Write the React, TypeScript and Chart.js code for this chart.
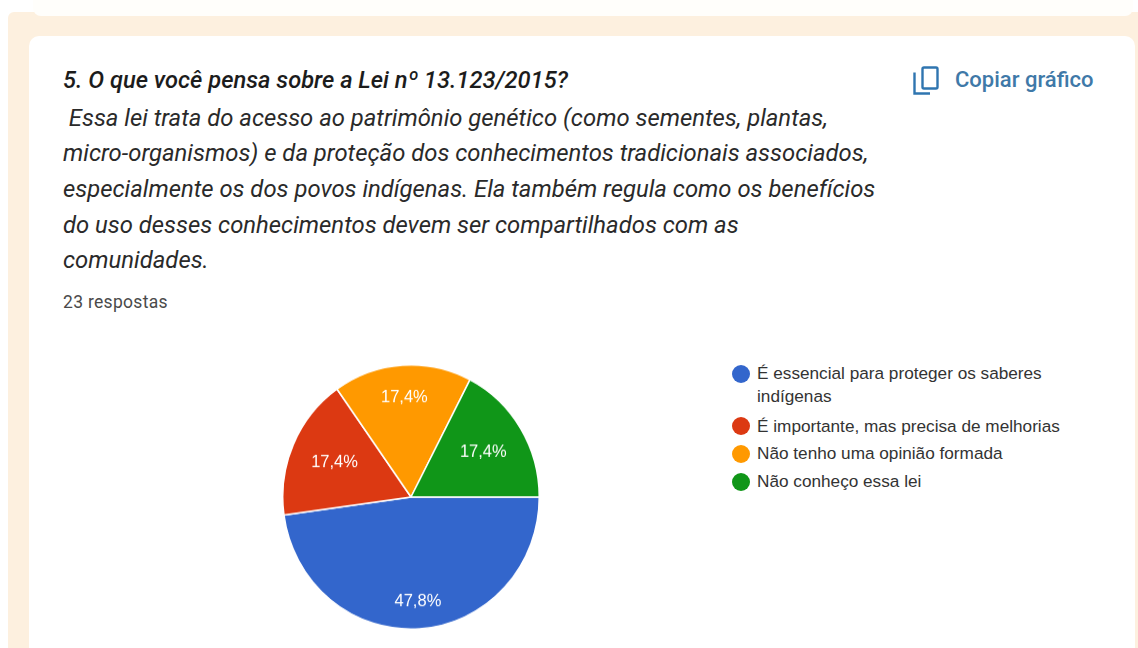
import React, { useEffect, useRef } from "react";
import { Chart, registerables } from "chart.js";

Chart.register(...registerables);

const categories = [
  ["É essencial para proteger os saberes", "indígenas"],
  ["É importante, mas precisa de melhorias"],
  ["Não tenho uma opinião formada"],
  ["Não conheço essa lei"],
];
const responses = [11, 4, 4, 4];
const valueLabels = ["47,8%", "17,4%", "17,4%", "17,4%"];
const colors = ["#3366cc", "#dc3912", "#ff9900", "#109618"];
const labelRadius = [0.79, 0.65, 0.755, 0.66];

const titleLine = "5. O que você pensa sobre a Lei nº 13.123/2015?";
const descriptionLines = [
  "\u00a0Essa lei trata do acesso ao patrimônio genético (como sementes, plantas,",
  "micro-organismos) e da proteção dos conhecimentos tradicionais associados,",
  "especialmente os dos povos indígenas. Ela também regula como os benefícios",
  "do uso desses conhecimentos devem ser compartilhados com as",
  "comunidades.",
];

const sliceLabels = {
  id: "sliceLabels",
  afterDatasetsDraw(chart: any) {
    const { ctx } = chart;
    const arcs = chart.getDatasetMeta(0).data;
    ctx.save();
    ctx.font = '16.5px "Liberation Sans", Arial, sans-serif';
    ctx.fillStyle = "#ffffff";
    ctx.textAlign = "center";
    ctx.textBaseline = "middle";
    arcs.forEach((arc: any, i: number) => {
      const mid = (arc.startAngle + arc.endAngle) / 2;
      const r = arc.outerRadius * labelRadius[i];
      ctx.fillText(valueLabels[i], arc.x + Math.cos(mid) * r, arc.y + Math.sin(mid) * r);
    });
    ctx.restore();
  },
};

const abs = (left: number, top: number, extra: React.CSSProperties = {}): React.CSSProperties => ({
  position: "absolute",
  left,
  top,
  whiteSpace: "pre",
  ...extra,
});

const legendMarkerTops = [365, 417, 445, 473];
const legendTextTops = [[363, 386], [416], [443], [471]];

export default function App() {
  const ref = useRef<HTMLCanvasElement>(null);

  useEffect(() => {
    document.body.style.margin = "0";
    const chart = new Chart(ref.current!, {
      type: "pie",
      data: {
        labels: categories.map((c) => c.join(" ")),
        datasets: [
          {
            data: responses,
            backgroundColor: colors,
            borderColor: "#ffffff",
            borderWidth: 1.5,
          },
        ],
      },
      options: {
        animation: false,
        responsive: false,
        rotation: 90,
        layout: { padding: 2 },
        plugins: { legend: { display: false }, tooltip: { enabled: false } },
      },
      plugins: [sliceLabels],
    });
    return () => chart.destroy();
  }, []);

  const roboto = "Roboto, sans-serif";
  const arial = '"Liberation Sans", Arial, sans-serif';

  return (
    <div style={{ position: "fixed", left: 0, top: 0, width: 1138, height: 648, overflow: "hidden", background: "#ffffff", filter: "blur(0.4px)" }}>
      <div style={abs(8, 12, { width: 1130, height: 636, background: "#fdf0df", borderRadius: "6px 0 0 0" })} />
      <div style={abs(33, -10, { width: 1100, height: 26, background: "#fffefb", borderRadius: 8 })} />
      <div style={abs(29, 36, { width: 1106, height: 640, background: "#ffffff", borderRadius: 10 })} />

      <div style={abs(63, 67, { font: `italic 500 23.7px/27px ${roboto}`, color: "#1c1c1c" })}>{titleLine}</div>
      {descriptionLines.map((line, i) => (
        <div key={i} style={abs(63, 104.5 + i * 35.7, { font: `italic 400 23.85px/27px ${roboto}`, color: "#2a2a2a" })}>
          {line}
        </div>
      ))}
      <div style={abs(63, 292, { font: `400 17.5px/20px ${roboto}`, color: "#4a4a4a", letterSpacing: 0.3 })}>23 respostas</div>

      <svg style={abs(912, 66)} width={28} height={30} viewBox="0 0 28 30" fill="none" stroke="#2f75b0" strokeWidth={2.4}>
        <path d="M2.5 6.5 V27.5 H18" />
        <rect x="10.5" y="1.5" width="15" height="21" rx="1.5" />
      </svg>
      <div style={abs(955, 68, { font: `500 22px/24px ${roboto}`, color: "#3f79a8" })}>Copiar gráfico</div>

      <canvas
        ref={ref}
        width={262}
        height={262}
        style={abs(280, 366, { display: "block", transform: "scaleY(1.03)", transformOrigin: "50% 50%" })}
      />

      {categories.map((lines, i) => (
        <React.Fragment key={i}>
          <span
            style={abs(732, legendMarkerTops[i], {
              width: 18,
              height: 18,
              borderRadius: "50%",
              background: colors[i],
            })}
          />
          {lines.map((line, j) => (
            <div key={j} style={abs(757, legendTextTops[i][j], { font: `400 17.2px/20px ${arial}`, color: "#333333" })}>
              {line}
            </div>
          ))}
        </React.Fragment>
      ))}
    </div>
  );
}
